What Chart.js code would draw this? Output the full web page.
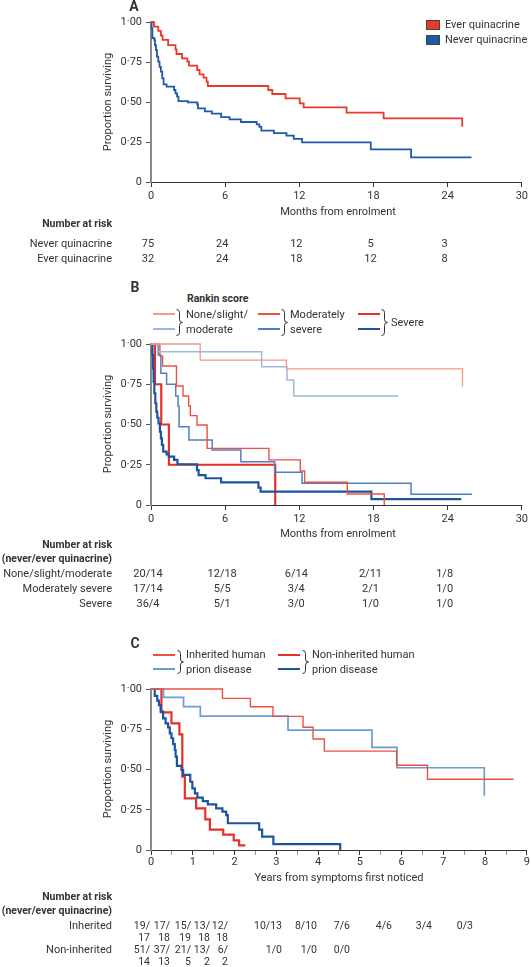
<!DOCTYPE html>
<html>
<head>
<meta charset="utf-8">
<script src="https://cdn.jsdelivr.net/npm/chart.js@4.4.1/dist/chart.umd.min.js"></script>
<style>
  body { margin: 0; background: #fff; }
  #fig { position: relative; width: 531px; height: 967px; overflow: hidden; font-family: Roboto, "Noto Sans", sans-serif; font-size: 11px; color: #333; }
  #fig canvas { position: absolute; left: 0; }
  .t { position: absolute; white-space: nowrap; line-height: 1.15; }
  .b { font-weight: bold; font-size: 10.5px; }
  .sm { font-size: 10.5px; }
  .panel { font-weight: bold; font-size: 14px; }
</style>
</head>
<body>
<div id="fig">
  <canvas id="chartA"></canvas>
  <canvas id="chartB"></canvas>
  <canvas id="chartC"></canvas>
</div>
<script>
// ---- data ----
const yTickValues = [0, 0.25, 0.5, 0.75, 1];
const yTickLabels = ["0", "0·25", "0·50", "0·75", "1·00"];

// Panel A (months from enrolment)
const aEverT = [0.24, 0.59, 0.80, 0.94, 1.39, 1.98, 2.06, 2.51, 2.94, 3.07, 3.74, 3.93, 4.25, 4.49, 4.60, 9.49, 9.81, 10.88, 12.03, 12.35, 15.82, 18.82, 25.18];
const aEverS = [0.971, 0.944, 0.915, 0.888, 0.856, 0.829, 0.80, 0.773, 0.752, 0.727, 0.70, 0.673, 0.652, 0.627, 0.60, 0.575, 0.55, 0.523, 0.492, 0.467, 0.433, 0.398, 0.346];
const aNeverT = [0.05, 0.11, 0.27, 0.32, 0.40, 0.48, 0.59, 0.69, 0.80, 0.91, 1.02, 1.26, 1.87, 1.98, 2.11, 2.22, 2.99, 3.74, 3.80, 4.36, 4.92, 5.67, 6.36, 7.27, 8.55, 8.77, 8.93, 9.94, 10.96, 11.55, 12.22, 17.78, 21.04, 25.93];
const aNeverS = [0.96, 0.90, 0.888, 0.856, 0.825, 0.783, 0.752, 0.72, 0.69, 0.648, 0.61, 0.596, 0.575, 0.554, 0.533, 0.506, 0.498, 0.486, 0.46, 0.442, 0.427, 0.406, 0.392, 0.375, 0.36, 0.344, 0.321, 0.306, 0.29, 0.269, 0.248, 0.204, 0.154, 0.154];

// Panel B (Rankin score)
const bNoneEverT = [3.98, 10.96, 25.2];
const bNoneEverS = [0.90, 0.845, 0.735];
const bNoneNeverT = [0.53, 8.95, 11.0, 11.55, 20.0];
const bNoneNeverS = [0.952, 0.859, 0.776, 0.677, 0.677];
const bModEverT = [0.72, 0.94, 2.06, 2.59, 3.05, 3.18, 3.72, 4.54, 9.54, 12.08, 12.43, 15.88, 18.87];
const bModEverS = [0.925, 0.863, 0.739, 0.677, 0.615, 0.555, 0.497, 0.352, 0.28, 0.211, 0.141, 0.068, 0];
const bModNeverT = [0.59, 0.80, 1.26, 2.0, 2.19, 2.27, 3.07, 4.95, 7.27, 10.0, 12.22, 21.04, 25.98];
const bModNeverS = [0.932, 0.818, 0.75, 0.677, 0.615, 0.486, 0.404, 0.342, 0.269, 0.204, 0.135, 0.066, 0.066];
const bSevEverT = [0.32, 0.83, 1.45, 10.05];
const bSevEverS = [0.75, 0.50, 0.25, 0];
const bSevNeverT = [0.11, 0.16, 0.21, 0.27, 0.35, 0.43, 0.51, 0.61, 0.72, 0.80, 0.88, 0.99, 1.26, 1.44, 1.87, 2.14, 3.72, 3.85, 4.41, 5.67, 8.69, 8.87, 17.83, 25.1];
const bSevNeverS = [0.932, 0.849, 0.766, 0.694, 0.632, 0.58, 0.542, 0.507, 0.455, 0.414, 0.373, 0.331, 0.315, 0.30, 0.28, 0.253, 0.217, 0.186, 0.166, 0.141, 0.108, 0.083, 0.037, 0.037];

// Panel C (years from symptoms first noticed)
const cInhEverT = [1.71, 2.38, 2.92, 3.64, 3.88, 4.15, 5.88, 6.62, 8.68];
const cInhEverS = [0.942, 0.89, 0.83, 0.762, 0.689, 0.614, 0.526, 0.439, 0.439];
const cInhNeverT = [0.30, 0.78, 1.18, 3.28, 5.29, 5.89, 7.98];
const cInhNeverS = [0.948, 0.89, 0.832, 0.745, 0.638, 0.511, 0.337];
const cNonEverT = [0.25, 0.49, 0.68, 0.75, 0.81, 1.08, 1.30, 1.41, 1.73, 1.98, 2.11, 2.26];
const cNonEverS = [0.855, 0.787, 0.718, 0.455, 0.321, 0.259, 0.19, 0.126, 0.096, 0.06, 0.029, 0.029];
const cNonNeverT = [0.09, 0.15, 0.19, 0.23, 0.29, 0.35, 0.41, 0.45, 0.49, 0.53, 0.57, 0.59, 0.62, 0.73, 0.77, 0.94, 0.99, 1.05, 1.11, 1.24, 1.36, 1.56, 1.71, 1.80, 1.84, 2.59, 2.66, 2.93, 4.53];
const cNonNeverS = [0.957, 0.928, 0.90, 0.859, 0.818, 0.787, 0.762, 0.725, 0.694, 0.658, 0.621, 0.58, 0.522, 0.497, 0.466, 0.424, 0.383, 0.352, 0.325, 0.304, 0.284, 0.259, 0.238, 0.217, 0.166, 0.126, 0.083, 0.037, 0];

// Numbers at risk
const riskTimesAB = [0, 6, 12, 18, 24];
const riskANever = ["75", "24", "12", "5", "3"];
const riskAEver = ["32", "24", "18", "12", "8"];
const riskBNone = ["20/14", "12/18", "6/14", "2/11", "1/8"];
const riskBMod = ["17/14", "5/5", "3/4", "2/1", "1/0"];
const riskBSev = ["36/4", "5/1", "3/0", "1/0", "1/0"];
const riskCInh = ["19/<br>17", "17/<br>18", "15/<br>19", "13/<br>18", "12/<br>18", "10/13", "8/10", "7/6", "4/6", "3/4", "0/3"];
const riskCNon = ["51/<br>14", "37/<br>13", "21/<br>5", "13/<br>2", "6/<br>2", "1/0", "1/0", "0/0"];

// ---- colours ----
const RED = "#e8392c", BLUE = "#1f5aa6";
const RED_LIGHT = "#f4998a", BLUE_LIGHT = "#9db9dd";
const RED_MID = "#ee5140", BLUE_MID = "#4d80c2";
const RED_DARK = "#e52f28", BLUE_DARK = "#1b55a0";
const BLUE_INH = "#6f9bd0";

Chart.defaults.font.family = "Roboto";
Chart.defaults.font.size = 11;
Chart.defaults.color = "#333";

const fig = document.getElementById("fig");

function km(ts, ss) {
  return [{ x: 0, y: 1 }].concat(ts.map((t, i) => ({ x: t, y: ss[i] })));
}

function line(ts, ss, color, width) {
  return { data: km(ts, ss), borderColor: color, borderWidth: width, stepped: true, pointRadius: 0, fill: false, clip: 4 };
}

function put(html, x, y, align, cls, extra) {
  const d = document.createElement("div");
  d.className = "t" + (cls ? " " + cls : "");
  d.innerHTML = html;
  d.style.left = x + "px";
  d.style.top = y + "px";
  const tx = align === "c" ? "-50%" : align === "r" ? "-100%" : "0";
  if (extra === "rot") {
    d.style.transform = "translate(-50%,-50%) rotate(-90deg)";
  } else if (extra === "topline") {
    d.style.transform = `translate(${tx},-6px)`;
    d.style.textAlign = align === "r" ? "right" : "left";
  } else {
    d.style.transform = `translate(${tx},-50%)`;
  }
  fig.appendChild(d);
  return d;
}

function swatch(x1, x2, y, color, h) {
  const d = document.createElement("div");
  d.style.cssText = `position:absolute;left:${x1}px;top:${y - h / 2}px;width:${x2 - x1}px;height:${h}px;background:${color};`;
  fig.appendChild(d);
}

function brace(x, y1, y2) {
  const h = y2 - y1, m = h / 2;
  fig.insertAdjacentHTML("beforeend",
    `<svg width="8" height="${h}" style="position:absolute;left:${x}px;top:${y1}px;overflow:visible">` +
    `<path d="M0.5,0.5 Q3.5,0.5 3.5,3.5 L3.5,${m - 3} Q3.5,${m} 6.5,${m} Q3.5,${m} 3.5,${m + 3} L3.5,${h - 3.5} Q3.5,${h - 0.5} 0.5,${h - 0.5}" fill="none" stroke="#333" stroke-width="1"/></svg>`);
}

function kmChart(id, canvasTop, plotTop, plotBottom, xMax, xStep, padRight, tickPad, datasets) {
  const canvas = document.getElementById(id);
  canvas.width = 531;
  canvas.height = plotBottom - canvasTop + 30;
  canvas.style.top = canvasTop + "px";
  return new Chart(canvas, {
    type: "line",
    data: { datasets },
    options: {
      responsive: false,
      animation: false,
      layout: { padding: { left: 100, top: plotTop - canvasTop, right: padRight, bottom: 0 } },
      plugins: { legend: { display: false }, tooltip: { enabled: false } },
      scales: {
        x: {
          type: "linear",
          min: 0,
          max: xMax,
          afterFit: (s) => { s.height = 30; },
          ticks: {
            stepSize: xStep,
            autoSkip: false,
            maxRotation: 0,
            padding: tickPad,
            color: "#333",
            callback: (v) => (Number.isInteger(v) ? String(v) : ""),
          },
          grid: {
            drawOnChartArea: false,
            drawTicks: true,
            tickLength: 5,
            tickColor: (ctx) => (Number.isInteger(ctx.tick && ctx.tick.value) ? "#333" : "#999"),
          },
          border: { display: true, color: "#333", width: 1 },
        },
        y: {
          min: 0,
          max: 1,
          afterFit: (s) => { s.width = 51; },
          afterBuildTicks: (s) => { s.ticks = yTickValues.map((v) => ({ value: v })); },
          ticks: {
            padding: 4,
            color: "#333",
            callback: (v) => yTickLabels[yTickValues.indexOf(v)],
          },
          grid: { drawOnChartArea: false, drawTicks: true, tickLength: 5, tickColor: "#555" },
          border: { display: true, color: "#8a8a8a", width: 2 },
        },
      },
    },
  });
}

// ---- Panel A ----
const chartA = kmChart("chartA", 0, 22, 182, 30, 6, 6, 3, [
  line(aEverT, aEverS, RED, 1.8),
  line(aNeverT, aNeverS, BLUE, 1.8),
]);
put("A", 134, 6, "c", "panel");
put("Proportion surviving", 108, 102, "c", "", "rot");
put("Months from enrolment", 338, 212, "c");
const boxA = [[RED, 20, "Ever quinacrine"], [BLUE, 34.5, "Never quinacrine"]];
boxA.forEach(([c, top, label]) => {
  const d = document.createElement("div");
  d.style.cssText = `position:absolute;left:426px;top:${top}px;width:12px;height:8px;border:1px solid #444;background:${c};`;
  fig.appendChild(d);
  put(label, 445, top + 5, "l");
});
put("Number at risk", 112, 224, "r", "b");
put("Never quinacrine", 112, 244, "r");
put("Ever quinacrine", 112, 259, "r");
riskTimesAB.forEach((t, i) => {
  const x = chartA.scales.x.getPixelForValue(t) - 3;
  put(riskANever[i], x, 244, "c");
  put(riskAEver[i], x, 259, "c");
});

// ---- Panel B ----
const chartB = kmChart("chartB", 330, 344, 505, 30, 6, 6, 3, [
  line(bNoneEverT, bNoneEverS, RED_LIGHT, 1.3),
  line(bNoneNeverT, bNoneNeverS, BLUE_LIGHT, 1.5),
  line(bModEverT, bModEverS, RED_MID, 1.4),
  line(bModNeverT, bModNeverS, BLUE_MID, 1.5),
  line(bSevNeverT, bSevNeverS, BLUE_DARK, 2.2),
  line(bSevEverT, bSevEverS, RED_DARK, 2.2),
]);
put("B", 135, 287, "c", "panel");
put("Rankin score", 187, 299, "l", "b");
swatch(153, 175, 314, RED_LIGHT, 1.3);
swatch(153, 175, 329, BLUE_LIGHT, 1.6);
brace(176, 309, 336);
put("None/slight/", 186, 315, "l");
put("moderate", 186, 330, "l");
swatch(258, 280, 314, RED_MID, 1.5);
swatch(258, 280, 329, BLUE_MID, 1.7);
brace(281, 309, 336);
put("Moderately", 290, 315, "l");
put("severe", 290, 330, "l");
swatch(358, 380, 314, RED_DARK, 2.2);
swatch(358, 380, 329, BLUE_DARK, 2.4);
brace(381, 309, 336);
put("Severe", 391, 322.5, "l");
put("Proportion surviving", 108, 424, "c", "", "rot");
put("Months from enrolment", 338, 534, "c");
put("Number at risk", 112, 545, "r", "b");
put("(never/ever quinacrine)", 112, 559, "r", "b");
const rowsB = [["None/slight/moderate", riskBNone, 574], ["Moderately severe", riskBMod, 589], ["Severe", riskBSev, 604]];
rowsB.forEach(([label, vals, y]) => {
  put(label, 112, y, "r");
  riskTimesAB.forEach((t, i) => put(vals[i], chartB.scales.x.getPixelForValue(t) - 3, y, "c"));
});

// ---- Panel C ----
kmChart("chartC", 675, 689, 850, 9, 0.5, 4, 1, [
  line(cInhEverT, cInhEverS, RED_MID, 1.4),
  line(cInhNeverT, cInhNeverS, BLUE_INH, 1.7),
  line(cNonNeverT, cNonNeverS, BLUE_DARK, 2.2),
  line(cNonEverT, cNonEverS, RED_DARK, 2.2),
]);
put("C", 135, 643, "c", "panel");
swatch(153, 175, 655, RED_MID, 1.5);
swatch(153, 175, 669, BLUE_INH, 1.8);
brace(177, 650, 674);
put("Inherited human", 186, 655, "l");
put("prion disease", 186, 670, "l");
swatch(278, 300, 655, RED_DARK, 2.2);
swatch(278, 300, 669, BLUE_DARK, 2.4);
brace(302, 650, 674);
put("Non-inherited human", 312, 655, "l");
put("prion disease", 312, 670, "l");
put("Proportion surviving", 108, 769, "c", "", "rot");
put("Years from symptoms first noticed", 339, 878, "c");
put("Number at risk", 112, 897, "r", "b");
put("(never/ever quinacrine)", 112, 911, "r", "b");
const colsC = [150, 170, 191, 210, 228, 282, 317, 350, 392, 432, 473];
const rowsC = [["Inherited", riskCInh, 926], ["Non-inherited", riskCNon, 950]];
rowsC.forEach(([label, vals, y]) => {
  put(label, 112, y, "r");
  vals.forEach((v, i) => put(v, colsC[i], y, "r", "sm", "topline"));
});
</script>
</body>
</html>
